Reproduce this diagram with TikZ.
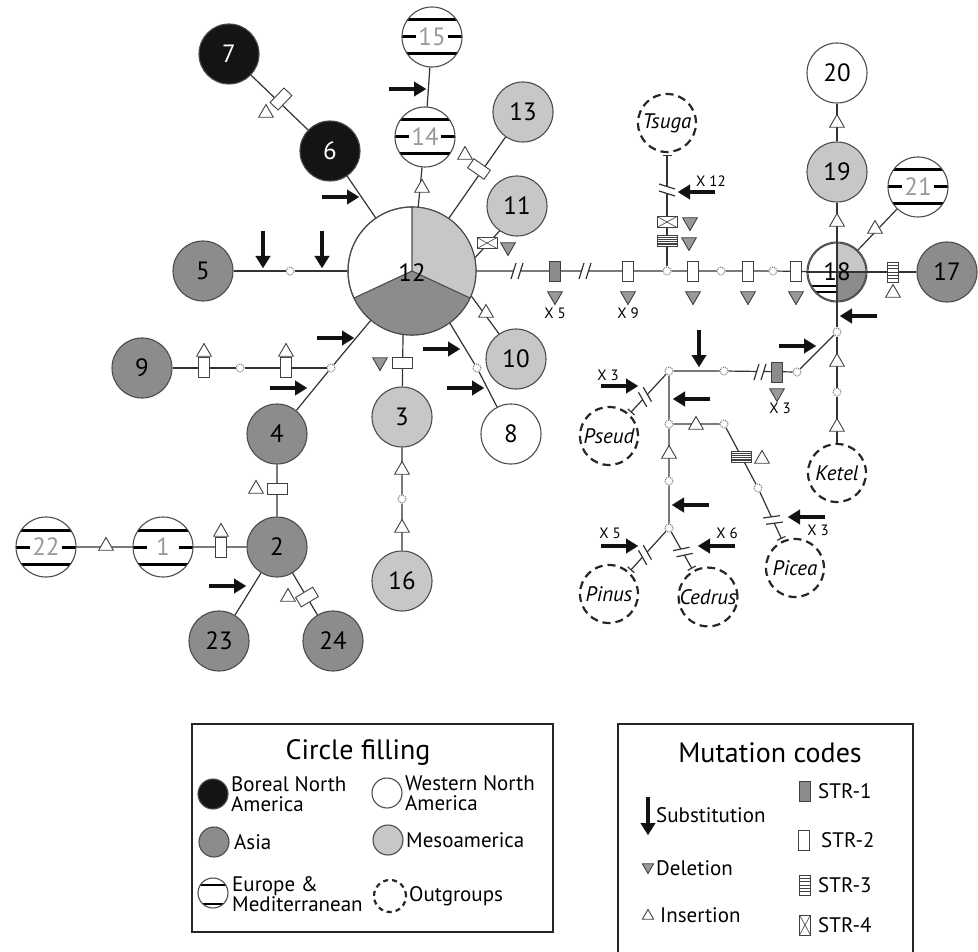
\documentclass[tikz,border=0pt]{standalone}
\usepackage{fontspec}
\setmainfont{PT Sans}
\usetikzlibrary{shapes.geometric,arrows.meta,calc}

\tikzset{
  hap/.style={circle, draw=black!70, line width=1.1pt, minimum size=60pt, inner sep=0pt,
    font=\fontsize{25}{25}\selectfont},
  boreal/.style={hap, fill=black!92, text=white},
  asian/.style={hap, fill=black!45},
  western/.style={hap, fill=white},
  meso/.style={hap, fill=black!22},
  europe/.style={hap, fill=white, text=black!40, path picture={
      \foreach \o in {-17,17}
        \draw[black, line width=3pt] ($(path picture bounding box.center)+(-35,\o)$) -- ++(70,0);
      \draw[black, line width=3pt] ($(path picture bounding box.center)+(-35,0)$) -- ++(19,0)
        ($(path picture bounding box.center)+(16,0)$) -- ++(19,0);}},
  euroleg/.style={hap, fill=white, minimum size=30pt, path picture={
      \foreach \o in {-11,8}
        \draw[black, line width=2.5pt] ($(path picture bounding box.center)+(-20,\o)$) -- ++(40,0);}},
  outgrp/.style={circle, draw=black!85, dash pattern=on 8pt off 5pt, line width=2.2pt,
    minimum size=58pt, inner sep=0pt, font=\fontsize{21}{21}\selectfont\itshape},
  mv/.style={circle, draw=black!55, densely dotted, line width=1pt, fill=white,
    minimum size=8pt, inner sep=0pt},
  link/.style={line width=1.2pt, black!80},
  tbar/.style={-{Bar[width=9pt]}, shorten >=2pt},
  ins/.style={regular polygon, regular polygon sides=3, draw=black!75, fill=white,
    line width=0.9pt, minimum size=17pt, inner sep=0pt},
  del/.style={ins, shape border rotate=180, fill=black!40},
  strbox/.style={rectangle, draw=black!75, line width=0.9pt, fill=white,
    minimum width=11pt, minimum height=20pt, inner sep=0pt},
  strone/.style={strbox, fill=black!45},
  strtwo/.style={strbox},
  strthree/.style={strbox, path picture={
      \foreach \t in {0.17,0.33,0.5,0.67,0.83}
        \draw[black!75, line width=0.6pt]
          ($(path picture bounding box.south west)!\t!(path picture bounding box.north west)$) --
          ($(path picture bounding box.south east)!\t!(path picture bounding box.north east)$);}},
  strfour/.style={strbox, path picture={
      \draw[black!75, line width=0.6pt]
        (path picture bounding box.south west) -- (path picture bounding box.north east)
        (path picture bounding box.north west) -- (path picture bounding box.south east);}},
  subst/.style={line width=4.5pt, black!93, -{Triangle[length=12pt, width=15pt, line width=0.1pt]}},
  mult/.style={font=\fontsize{15}{15}\selectfont, inner sep=0pt},
  legtext/.style={font=\fontsize{21}{20}\selectfont, align=left, anchor=west, inner sep=0pt},
  legtitle/.style={font=\fontsize{28}{28}\selectfont, inner sep=0pt},
  brk/.pic={
    \fill[white] (-6,-8) -- (-1,8) -- (6,8) -- (1,-8) -- cycle;
    \draw[black!80, line width=1.2pt] (-6,-8) -- (-1,8) (1,-8) -- (6,8);}
}

\begin{document}
\begin{tikzpicture}[x=1pt,y=1pt]
\path[use as bounding box, clip] (0,0) rectangle (978,-952);

% haplotypes
\node[boreal] (h7) at (229,-54) {7};
\node[boreal] (h6) at (330,-151) {6};
\node[europe] (h15) at (432,-37) {15};
\node[europe] (h14) at (425,-137) {14};
\node[asian] (h5) at (203,-271) {5};
\node[meso] (h13) at (523,-112) {13};
\node[meso] (h11) at (517,-206) {11};
\node[meso] (h10) at (516,-359) {10};
\node[western] (h8) at (511,-434) {8};
\node[asian] (h9) at (142,-368) {9};
\node[asian] (h4) at (277,-434) {4};
\node[meso] (h3) at (402,-417) {3};
\node[meso] (h16) at (402,-581) {16};
\node[asian] (h2) at (277,-547) {2};
\node[europe] (h1) at (163,-547) {1};
\node[europe] (h22) at (46,-547) {22};
\node[asian] (h23) at (219,-641) {23};
\node[asian] (h24) at (333,-641) {24};
\node[western] (h20) at (837,-73) {20};
\node[meso] (h19) at (837,-172) {19};
\node[europe] (h21) at (918,-187) {21};
\node[asian] (h17) at (947,-272) {17};

% haplotype 12, three regions
\node[western, minimum size=128pt] (h12) at (412,-271) {};
\fill[black!22] (h12.center) -- ++(90:64) arc[start angle=90, end angle=-25, radius=64] -- cycle;
\fill[black!45] (h12.center) -- ++(-25:64) arc[start angle=-25, end angle=-155, radius=64] -- cycle;
\draw[black!70, line width=1.1pt] (h12.center) circle[radius=64]
  (h12.center) -- ++(90:64) (h12.center) -- ++(-25:64) (h12.center) -- ++(-155:64);
\node[font=\fontsize{25}{25}\selectfont] (n12) at (412,-273) {12};

% haplotype 18, four regions
\node[western] (h18) at (837,-272) {};
\fill[black!22] (h18.center) -- ++(90:29) arc[start angle=90, end angle=0, radius=29] -- cycle;
\fill[black!45] (h18.center) -- ++(0:29) arc[start angle=0, end angle=-90, radius=29] -- cycle;
\begin{scope}
  \clip (h18.center) -- ++(180:29) arc[start angle=180, end angle=270, radius=29] -- cycle;
  \foreach \o in {13,19}
    \fill (806,-272-\o) rectangle (837,-274.5-\o);
\end{scope}
\draw[black!70, line width=1.1pt] (h18.center) circle[radius=29];
\draw[link] (h18.north) -- (h18.south) (h18.west) -- (h18.east);
\node[font=\fontsize{25}{25}\selectfont] (n18) at (h18.center) {18};

% outgroups
\node[outgrp] (tsuga) at (667,-123) {Tsuga};
\node[outgrp] (pseud) at (609,-436) {Pseud};
\node[outgrp] (ketel) at (837,-473) {Ketel};
\node[outgrp] (pinus) at (609,-594) {Pinus};
\node[outgrp] (cedrus) at (708,-597) {Cedrus};
\node[outgrp] (picea) at (795,-568) {Picea};

% median vectors
\node[mv] (mva) at (290,-271) {};
\node[mv] (mvb) at (477,-368) {};
\node[mv] (mvc) at (402,-499) {};
\node[mv] (mvd) at (331,-368) {};
\node[mv] (mve) at (240,-368) {};
\node[mv] (mvf) at (667,-271) {};
\node[mv] (mvg) at (721,-271) {};
\node[mv] (mvh) at (773,-271) {};
\node[mv] (mvi) at (837,-332) {};
\node[mv] (mvj) at (837,-392) {};
\node[mv] (mvk) at (797,-372) {};
\node[mv] (mvl) at (724,-371) {};
\node[mv] (mvm) at (669,-371) {};
\node[mv] (mvn) at (669,-424) {};
\node[mv] (mvo) at (724,-424) {};
\node[mv] (mvp) at (758,-488) {};
\node[mv] (mvq) at (669,-481) {};
\node[mv] (mvr) at (669,-528) {};

% connections
\draw[link] (h5) -- (mva) -- (h12);
\draw[link] (h12) -- (h6) -- (h7);
\draw[link] (h12) -- (h14) -- (h15);
\draw[link] (h12) -- (h13);
\draw[link] (h12.12) -- (h11.235);
\draw[link] (h12.-23) -- (h10.124);
\draw[link] (h12.-54) -- (mvb) -- (h8);
\draw[link] (h12.262) -- (h3) -- (mvc) -- (h16);
\draw[link] (h12) -- (mvd) -- (h4) -- (h2) -- (h1) -- (h22);
\draw[link] (mvd) -- (mve) -- (h9);
\draw[link] (h2) -- (h23);
\draw[link] (h2) -- (h24);
\draw[link] (h12) -- (mvf) -- (mvg) -- (mvh) -- (h18);
\draw[link, tbar] (mvf) -- (tsuga);
\draw[link] (h18) -- (h19) -- (h20);
\draw[link] (h18) -- (h21);
\draw[link] (h18) -- (h17);
\draw[link] (h18) -- (mvi) -- (mvj) -- (ketel);
\draw[link] (mvi) -- (mvk) -- (mvl) -- (mvm) -- (mvn) -- (mvq) -- (mvr);
\draw[link] (mvn) -- (mvo) -- (mvp);
\draw[link, tbar] (mvp) -- (picea);
\draw[link, tbar] (mvm) -- (pseud);
\draw[link, tbar] (mvr) -- (pinus);
\draw[link, tbar] (mvr) -- (cedrus);

% long branches cut short
\foreach \x/\y/\r in {517/-271/0, 585/-271/0, 667/-190/90, 760/-372/0,
                      645/-397/47, 773/-520/-65, 645/-555/47, 683/-552/-61}
  \pic[rotate=\r] at (\x,\y) {brk};

% STR mutations
\foreach \s/\x/\y/\r [count=\i] in {strtwo/281/-99/-44, strtwo/479/-169/55, strfour/487/-243/90,
    strtwo/402/-363/90, strtwo/204/-367/0, strtwo/286/-367/0, strtwo/277/-489/90,
    strtwo/221/-547/0, strtwo/307/-597/-59, strone/555/-271/0, strtwo/628/-271/0,
    strtwo/693/-271/0, strtwo/748/-271/0, strtwo/796/-271/0, strfour/667/-222/90,
    strthree/667/-241/90, strthree/893/-272/0, strone/777/-372/0, strthree/741/-457/90}
  \node[\s, rotate=\r] (str\i) at (\x,\y) {};

% insertions
\foreach \x/\y [count=\i] in {266/-113, 465/-155, 422/-188, 486/-313, 204/-352, 286/-352,
    256/-489, 221/-532, 106/-546, 288/-597, 402/-470, 402/-528, 837/-222, 837/-123,
    875/-229, 893/-293, 837/-362, 837/-427, 696/-425, 762/-459, 669/-454}
  \node[ins] (ins\i) at (\x,\y) {};

% deletions
\foreach \x/\y [count=\i] in {555/-296, 628/-296, 693/-296, 748/-296, 796/-296,
    690/-222, 689/-242, 508/-247, 380/-362, 777/-393}
  \node[del] (del\i) at (\x,\y) {};

% substitutions
\foreach \x/\y in {263/-268, 322/-268, 699/-367}
  \draw[subst] (\x,\y+37) -- (\x,\y);
\foreach \x/\y in {359/-197, 426/-89, 354/-338, 307/-388, 246/-586, 460/-349,
    484/-388, 816/-346, 638/-386, 638/-546}
  \draw[subst] (\x-37,\y) -- (\x,\y);
\foreach \x/\y in {678/-192, 840/-316, 673/-399, 672/-505, 698/-546, 788/-517}
  \draw[subst] (\x+37,\y) -- (\x,\y);

% multiple steps
\node[mult] (x5a) at (555,-313) {X 5};
\node[mult] (x9) at (628,-313) {X 9};
\node[mult] (x12) at (711,-181) {X 12};
\node[mult] (x3a) at (780,-408) {X 3};
\node[mult] (x3b) at (608,-375) {X 3};
\node[mult] (x3c) at (818,-530) {X 3};
\node[mult] (x5b) at (610,-533) {X 5};
\node[mult] (x6) at (727,-533) {X 6};

% legend: circle filling
\draw[line width=1.8pt, black!85] (192,-724) rectangle (553,-932);
\node[legtitle] (tfill) at (358,-752) {Circle filling};
\node[boreal, minimum size=30pt] (lboreal) at (213,-794) {};
\node[legtext] (tboreal) at (231,-794) {Boreal North\\America};
\node[western, minimum size=30pt] (lwestern) at (387,-793) {};
\node[legtext] (twestern) at (405,-793) {Western North\\America};
\node[asian, minimum size=30pt] (lasian) at (214,-842) {};
\node[legtext] (tasian) at (234,-842) {Asia};
\node[meso, minimum size=30pt] (lmeso) at (388,-840) {};
\node[legtext] (tmeso) at (406,-840) {Mesoamerica};
\node[euroleg] (leurope) at (213,-893) {};
\node[legtext] (teurope) at (232,-894) {Europe \&\\Mediterranean};
\node[outgrp, minimum size=32pt, dash pattern=on 5pt off 4pt] (loutgrp) at (390,-896) {};
\node[legtext] (toutgrp) at (409,-896) {Outgroups};

% legend: mutation codes
\draw[line width=1.8pt, black!85] (618,-724) rectangle (913,-962);
\node[legtitle] (tcodes) at (770,-753) {Mutation codes};
\draw[subst, line width=3.5pt] (648,-797) -- (648,-835);
\node[legtext] (tsubst) at (656,-815) {Substitution};
\node[del, minimum size=13pt] (ldel) at (648,-867) {};
\node[legtext] (tdel) at (656,-868) {Deletion};
\node[ins, minimum size=13pt] (lins) at (648,-916) {};
\node[legtext] (tins) at (660,-915) {Insertion};
\node[strone] (lstrone) at (805,-791) {};
\node[legtext] (tstrone) at (818,-791) {STR-1};
\node[strtwo] (lstrtwo) at (804,-840) {};
\node[legtext] (tstrtwo) at (821,-840) {STR-2};
\node[strthree] (lstrthree) at (805,-885) {};
\node[legtext] (tstrthree) at (818,-885) {STR-3};
\node[strfour] (lstrfour) at (805,-925) {};
\node[legtext] (tstrfour) at (818,-925) {STR-4};
\end{tikzpicture}
\end{document}
